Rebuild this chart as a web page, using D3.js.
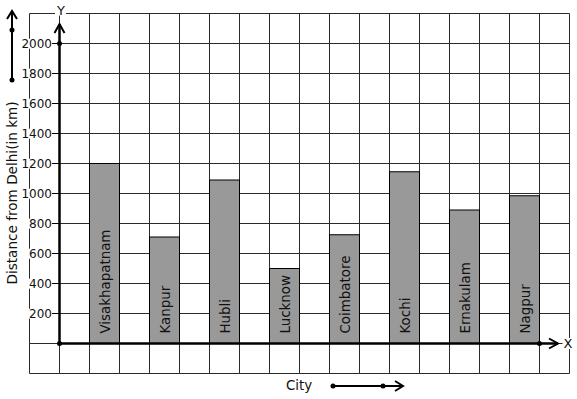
<!DOCTYPE html>
<html>
<head>
<meta charset="utf-8">
<script src="https://cdn.jsdelivr.net/npm/d3@7"></script>
<style>
  body { margin: 0; background: #fff; }
  svg { display: block; font-family: "DejaVu Sans", sans-serif; }
</style>
</head>
<body>
<svg id="chart" width="577" height="399"></svg>
<script>
// data
const cities = ['Visakhapatnam', 'Kanpur', 'Hubli', 'Lucknow', 'Coimbatore', 'Kochi', 'Ernakulam', 'Nagpur'];
const distances = [1200, 710, 1090, 500, 725, 1145, 890, 985];
const yTicks = [200, 400, 600, 800, 1000, 1200, 1400, 1600, 1800, 2000];

const svg = d3.select('#chart');

// scales
const yScale = d3.scaleLinear()
  .domain([0, 2000])
  .range([343.5, 43.5]);

const xScale = d3.scaleBand()
  .domain(cities)
  .range([89.5, 569.5])
  .paddingInner(0.5)
  .paddingOuter(0.25)
  .align(0);

// grid cells are half a city step wide
const gridStep = xScale.step() / 2;
const gridX = d3.range(29.5, 570, gridStep);
const gridY = d3.range(-200, 2201, 200);

/*=== grid ===*/
const grid = svg.append('g').attr('stroke', '#2b2b2b').attr('stroke-width', 1);
grid.selectAll('.gv')
  .data(gridX)
  .enter()
  .append('line')
    .attr('x1', d => d).attr('x2', d => d)
    .attr('y1', yScale(2200)).attr('y2', yScale(-200));
grid.selectAll('.gh')
  .data(gridY)
  .enter()
  .append('line')
    .attr('y1', d => yScale(d)).attr('y2', d => yScale(d))
    .attr('x1', gridX[0]).attr('x2', gridX[gridX.length - 1]);

/*=== bars ===*/
const data = cities.map((c, i) => ({ city: c, value: distances[i] }));

svg.append('g').selectAll('.bar')
  .data(data)
  .enter()
  .append('rect')
    .attr('class', 'bar')
    .attr('x', d => xScale(d.city))
    .attr('y', d => yScale(d.value))
    .attr('width', xScale.bandwidth())
    .attr('height', d => yScale(0) - yScale(d.value))
    .attr('fill', '#999999')
    .attr('stroke', '#000')
    .attr('stroke-width', 1);

// city names inside the bars
svg.append('g').selectAll('.barlabel')
  .data(data)
  .enter()
  .append('text')
    .attr('transform', d => `translate(${xScale(d.city) + xScale.bandwidth() / 2 + 5}, ${yScale(0) - 10}) rotate(-90)`)
    .attr('font-size', '13.4px')
    .attr('fill', '#111')
    .text(d => d.city);

/*=== axes ===*/
const x0 = 59.5;
const y0 = yScale(0);

// helper: text with a white box behind it
function boxedText(g, x, y, txt, size, anchor) {
  const t = g.append('text')
    .attr('x', x).attr('y', y)
    .attr('dy', '0.35em')
    .attr('font-size', size)
    .attr('text-anchor', anchor)
    .attr('fill', '#111')
    .text(txt);
  const bb = t.node().getBBox();
  g.insert('rect', () => t.node())
    .attr('x', bb.x - 1).attr('y', bb.y + 2)
    .attr('width', bb.width + 2).attr('height', bb.height - 4)
    .attr('fill', '#fff');
  return t;
}

const axisG = svg.append('g');

// y tick labels + ticks
yTicks.forEach(v => {
  boxedText(axisG, 52, yScale(v), String(v), '12px', 'end');
  axisG.append('line')
    .attr('x1', 52).attr('x2', x0)
    .attr('y1', yScale(v)).attr('y2', yScale(v))
    .attr('stroke', '#000');
});

// y axis line with arrow
axisG.append('line')
  .attr('x1', x0).attr('x2', x0)
  .attr('y1', y0).attr('y2', 24)
  .attr('stroke', '#000').attr('stroke-width', 2.5);
axisG.append('path')
  .attr('d', `M${x0 - 5},33 L${x0},24 L${x0 + 5},33`)
  .attr('fill', 'none').attr('stroke', '#000').attr('stroke-width', 2);

// x axis line with arrow
axisG.append('line')
  .attr('x1', x0).attr('x2', 558)
  .attr('y1', y0).attr('y2', y0)
  .attr('stroke', '#000').attr('stroke-width', 2.5);
axisG.append('path')
  .attr('d', `M549,${y0 - 5} L558,${y0} L549,${y0 + 5}`)
  .attr('fill', 'none').attr('stroke', '#000').attr('stroke-width', 2);

// dots on the axes
[[x0, y0], [x0, yScale(2000)], [gridX[17], y0]].forEach(p => {
  axisG.append('circle').attr('cx', p[0]).attr('cy', p[1]).attr('r', 2.5).attr('fill', '#000');
});

// axis letters
boxedText(axisG, 61, 10, 'Y', '13px', 'middle');
boxedText(axisG, 568, y0, 'X', '13px', 'middle');

/*=== titles ===*/
svg.append('text')
  .attr('transform', `translate(17, 193) rotate(-90)`)
  .attr('text-anchor', 'middle')
  .attr('font-size', '13.6px')
  .attr('fill', '#111')
  .text('Distance from Delhi(in km)');

svg.append('text')
  .attr('x', 299).attr('y', 390)
  .attr('text-anchor', 'middle')
  .attr('font-size', '13.4px')
  .attr('fill', '#111')
  .text('City');

// decorative arrows (from the original drawing)
const deco = svg.append('g').attr('stroke', '#000').attr('stroke-width', 2).attr('fill', 'none');
deco.append('line').attr('x1', 12).attr('x2', 12).attr('y1', 80).attr('y2', 11);
deco.append('path').attr('d', 'M7,19 L12,11 L17,19');
deco.append('line').attr('x1', 333).attr('x2', 403).attr('y1', 386).attr('y2', 386);
deco.append('path').attr('d', 'M395,381 L403,386 L395,391');
[[12, 80], [12, 30], [333, 386], [383, 386]].forEach(p => {
  svg.append('circle').attr('cx', p[0]).attr('cy', p[1]).attr('r', 2.5).attr('fill', '#000');
});
</script>
</body>
</html>
